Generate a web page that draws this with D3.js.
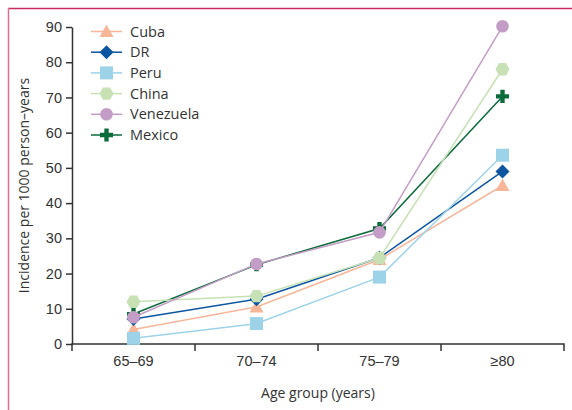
<!DOCTYPE html>
<html lang="en">
<head>
    <meta charset="UTF-8">
    <title>Incidence by age group</title>
    <script src="https://d3js.org/d3.v7.min.js"></script>
    <style>
        body {
            margin: 0;
            background: #fff;
            font-family: "Open Sans", "Noto Sans", sans-serif;
        }
        .axis text {
            font-size: 14px;
            fill: #333;
        }
        .axis path, .axis line {
            stroke: #333;
            stroke-width: 1.5px;
        }
    </style>
</head>
<body>
    <svg id="chart" width="572" height="410"></svg>
    <script>
        // Values
        const ageGroups = ["65–69", "70–74", "75–79", "≥80"];
        const countries = ["Cuba", "DR", "Peru", "China", "Venezuela", "Mexico"];
        const cuba = [4.1, 10.5, 24.0, 45.0];
        const dr = [7.1, 12.7, 24.5, 49.0];
        const peru = [1.6, 5.8, 19.0, 53.6];
        const china = [12.0, 13.6, 24.4, 78.0];
        const venezuela = [7.6, 22.7, 31.7, 90.2];
        const mexico = [8.5, 22.5, 32.8, 70.3];
        const yTicks = [0, 10, 20, 30, 40, 50, 60, 70, 80, 90];

        const series = [
            { name: "Cuba", values: cuba, color: "#f8b699", shape: "triangle" },
            { name: "DR", values: dr, color: "#0b55a1", shape: "diamond" },
            { name: "Peru", values: peru, color: "#9dd3e8", shape: "square" },
            { name: "China", values: china, color: "#c7e1b4", shape: "hexagon" },
            { name: "Venezuela", values: venezuela, color: "#c49dc6", shape: "circle" },
            { name: "Mexico", values: mexico, color: "#0c6b3b", shape: "plus" }
        ];

        const svg = d3.select("#chart");
        const margin = { left: 72, right: 8, top: 27, bottom: 66 };
        const W = 572, H = 410;

        // frame lines (journal style)
        svg.append("line").attr("x1", 8).attr("x2", W).attr("y1", 8.5).attr("y2", 8.5)
            .attr("stroke", "#c9285a").attr("stroke-width", 1.5);
        svg.append("line").attr("x1", 8.5).attr("x2", 8.5).attr("y1", 8).attr("y2", H)
            .attr("stroke", "#dc6f90").attr("stroke-width", 1.5);

        const x = d3.scaleBand().domain(ageGroups).range([margin.left, W - margin.right]);
        const y = d3.scaleLinear().domain([0, 90]).range([H - margin.bottom, margin.top]);

        const xAxis = svg.append("g").attr("class", "axis")
            .attr("transform", `translate(0,${H - margin.bottom})`)
            .call(d3.axisBottom(x).tickSize(0).tickPadding(12));
        xAxis.select(".domain").remove();
        xAxis.append("path")
            .attr("d", `M${margin.left},7V0H${W - margin.right}V7`)
            .attr("fill", "none").attr("stroke", "#333").attr("stroke-width", 1.5);
        x.domain().slice(1).forEach(g => {
            xAxis.append("line").attr("x1", x(g)).attr("x2", x(g)).attr("y1", 0).attr("y2", 7);
        });
        xAxis.selectAll(".tick text").style("font-size", "14.5px");

        const yAxis = svg.append("g").attr("class", "axis")
            .attr("transform", `translate(${margin.left},0)`)
            .call(d3.axisLeft(y).tickValues(yTicks).tickSize(6).tickSizeOuter(0).tickPadding(4));
        yAxis.selectAll(".tick text").style("font-size", "14.5px");

        svg.append("text")
            .attr("x", (margin.left + W - margin.right) / 2).attr("y", 398)
            .attr("text-anchor", "middle").attr("fill", "#333").style("font-size", "14px")
            .text("Age group (years)");
        svg.append("text")
            .attr("transform", `translate(29,${y(45)}) rotate(-90)`)
            .attr("text-anchor", "middle").attr("fill", "#333").style("font-size", "14px")
            .text("Incidence per 1000 person–years");

        // marker shapes
        function marker(g, shape, color) {
            let p;
            if (shape === "circle") {
                p = g.append("circle").attr("r", 6.3);
            } else if (shape === "square") {
                p = g.append("rect").attr("x", -6.5).attr("y", -6.5).attr("width", 13).attr("height", 13);
            } else if (shape === "diamond") {
                p = g.append("path").attr("d", "M0,-7L7,0L0,7L-7,0Z");
            } else if (shape === "triangle") {
                p = g.append("path").attr("d", "M0,-7L7,5.5H-7Z");
            } else if (shape === "hexagon") {
                p = g.append("path").attr("d", "M-7,0L-3.5,-6.2H3.5L7,0L3.5,6.2H-3.5Z");
            } else {
                p = g.append("path").attr("d", d3.symbol(d3.symbolCross, 95)());
            }
            p.attr("fill", color);
        }

        const line = d3.line().x((d, i) => x(ageGroups[i]) + x.bandwidth() / 2).y(d => y(d));

        const drawOrder = ["Mexico", "Cuba", "DR", "Peru", "China", "Venezuela"];
        drawOrder.forEach(name => {
            const s = series.find(d => d.name === name);
            svg.append("path").datum(s.values)
                .attr("d", line).attr("fill", "none")
                .attr("stroke", s.color).attr("stroke-width", 1.5);
            s.values.forEach((v, i) => {
                const g = svg.append("g")
                    .attr("transform", `translate(${x(ageGroups[i]) + x.bandwidth() / 2},${y(v)})`);
                marker(g, s.shape, s.color);
            });
        });

        // legend
        const legend = svg.append("g").attr("transform", "translate(91,31.5)");
        countries.forEach((c, i) => {
            const s = series.find(d => d.name === c);
            const row = legend.append("g").attr("transform", `translate(0,${i * 20.7})`);
            row.append("line").attr("x1", 0).attr("x2", 31).attr("stroke", s.color).attr("stroke-width", 1.5);
            const m = row.append("g").attr("transform", "translate(15.5,0)");
            marker(m, s.shape, s.color);
            row.append("text").attr("x", 39).attr("dy", "0.35em")
                .attr("fill", "#333").style("font-size", "14.5px").text(c);
        });
    </script>
</body>
</html>
